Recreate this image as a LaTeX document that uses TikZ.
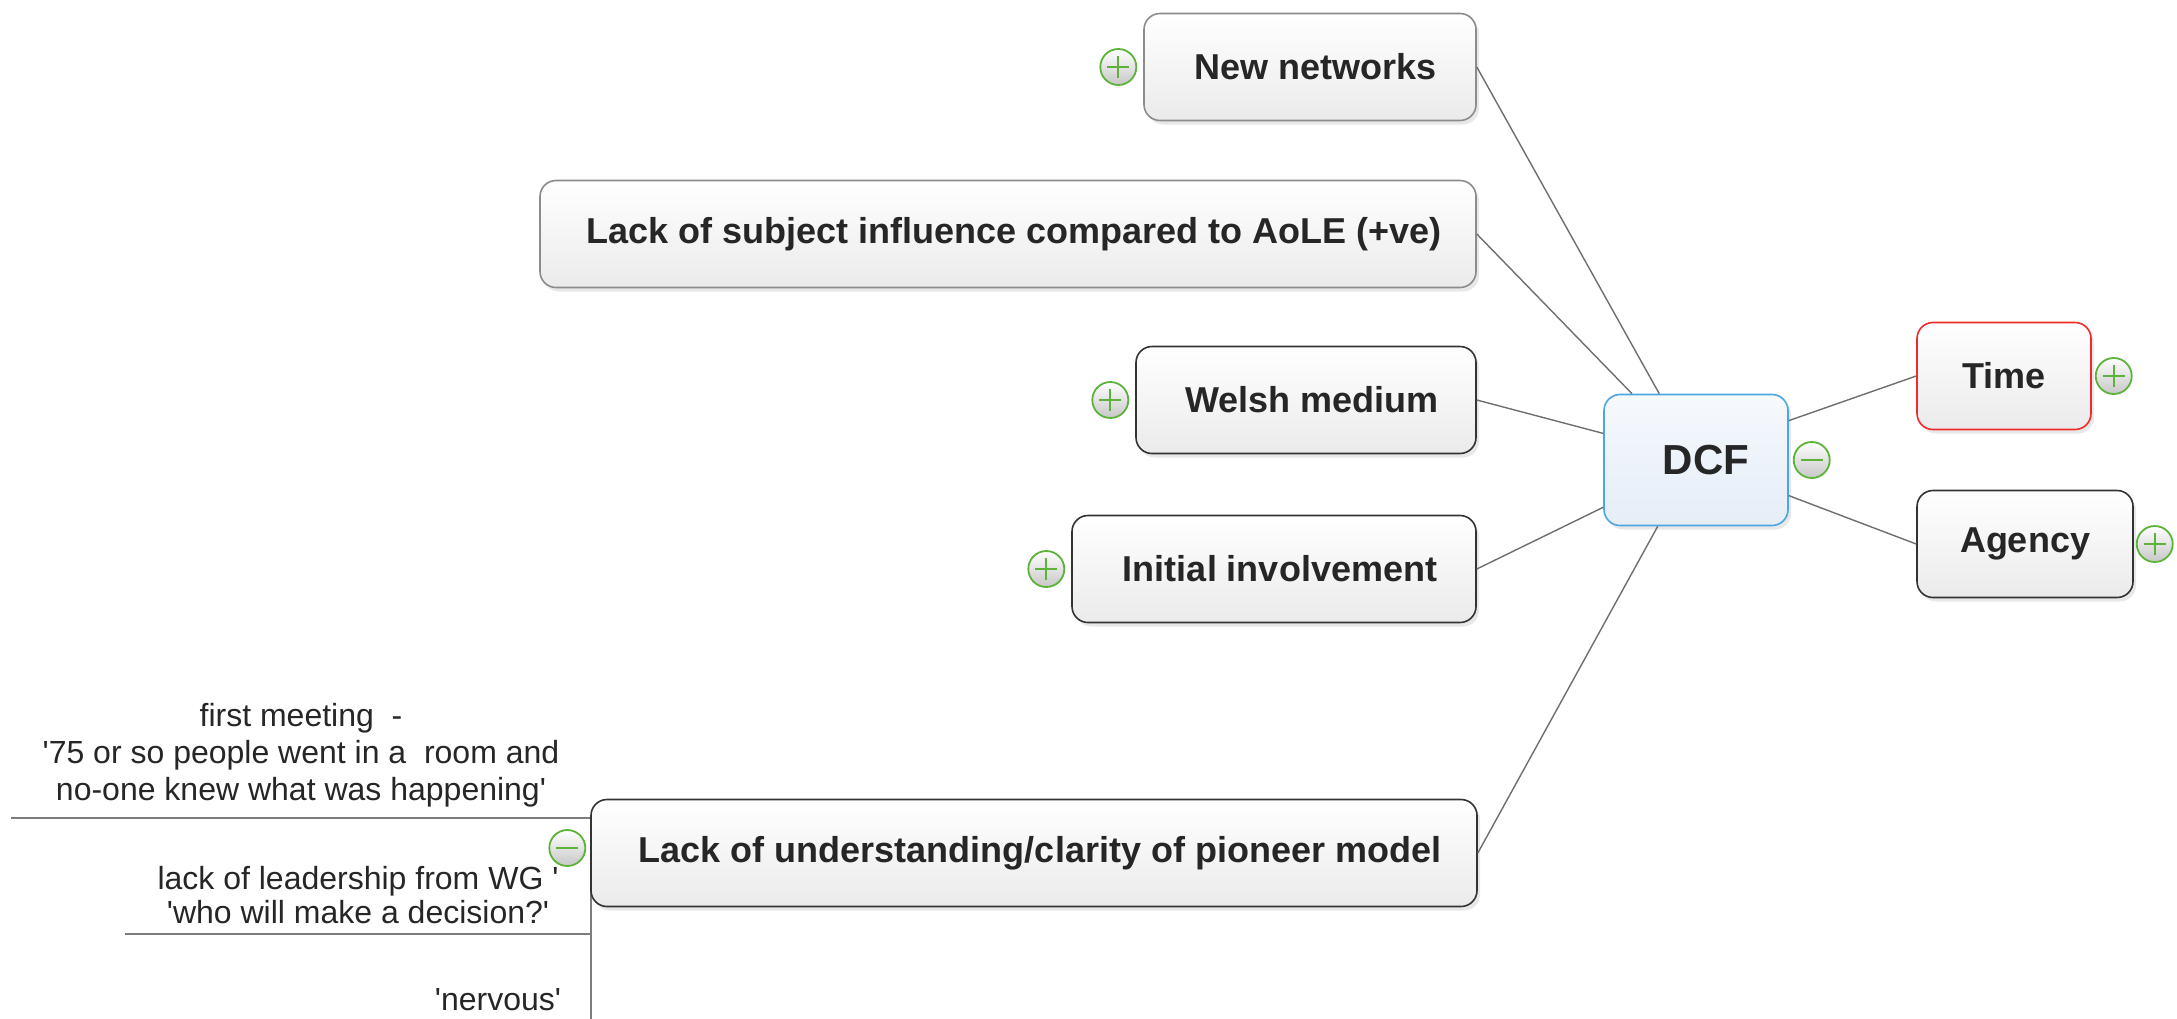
\documentclass[tikz,border=0pt]{standalone}
\usepackage{fontspec}
\setmainfont{Liberation Sans}
\usetikzlibrary{positioning,shadows}

\definecolor{boxline}{HTML}{333333}
\definecolor{greyline}{HTML}{8C8C8C}
\definecolor{dcfline}{HTML}{4DA6E0}
\definecolor{dcftop}{HTML}{F6F9FD}
\definecolor{dcfbottom}{HTML}{E5EDF8}
\definecolor{timered}{HTML}{EE2B2B}
\definecolor{btngreen}{HTML}{5DB33A}
\definecolor{linkgrey}{HTML}{6E6E6E}
\definecolor{labeltext}{HTML}{262626}

\newcommand{\sq}{\textquotesingle}

\tikzset{
  topic/.style={rectangle, rounded corners=8pt, draw=boxline, line width=0.8pt,
    top color=white, bottom color=black!8,
    drop shadow={opacity=0.18, shadow xshift=1.5pt, shadow yshift=-2pt},
    text=labeltext, font=\bfseries\fontsize{18}{21}\selectfont,
    minimum height=53.5pt, inner sep=0pt},
  centre/.style={topic, draw=dcfline, top color=dcftop, bottom color=dcfbottom,
    font=\bfseries\fontsize{21}{25}\selectfont,
    minimum width=92pt, minimum height=65.5pt},
  note/.style={align=center, text=labeltext, inner xsep=0pt, inner ysep=5pt,
    font=\fontsize{16}{18.5}\selectfont, anchor=south},
  link/.style={draw=linkgrey, line width=0.7pt},
  underline/.style={draw=linkgrey!90, line width=1pt},
  expand/.style={circle, draw=btngreen, line width=0.9pt, top color=white,
    bottom color=black!22, minimum size=18pt, inner sep=0pt,
    path picture={\draw[btngreen, line width=1pt]
      ([xshift=3.5pt]path picture bounding box.west) -- ([xshift=-3.5pt]path picture bounding box.east)
      ([yshift=-3.5pt]path picture bounding box.north) -- ([yshift=3.5pt]path picture bounding box.south);}},
  collapse/.style={expand,
    path picture={\draw[btngreen, line width=1pt]
      ([xshift=3.5pt]path picture bounding box.west) -- ([xshift=-3.5pt]path picture bounding box.east);}}
}

\begin{document}
\begin{tikzpicture}[x=0.5pt,y=-0.5pt]
\useasboundingbox (0,0) rectangle (2177,1018);

% notes under the pioneer model topic
\node[note, minimum width=290pt] (m1) at (301,818) {first meeting \ -\\\sq75 or so people went in a \ room and\\no-one knew what was happening\sq};
\node[note, minimum width=233pt, font=\fontsize{16}{17}\selectfont] (m2) at (358,934) {lack of leadership from WG \sq\\\sq who will make a decision?\sq};
\node[note, minimum width=93pt] (m3) at (498,1021) {\sq nervous\sq};
\draw[underline] (m1.south west) -- (m1.south east);
\draw[underline] (m2.south west) -- (m2.south east);
\draw[underline] (m1.south east) -- (m3.south east);

% topics
\node[centre] (dcf) at (1696,460) {\hspace{10pt}DCF};
\node[topic, draw=greyline, minimum width=166pt] (nn) at (1310,67) {\hspace{6pt}New networks};
\node[topic, draw=greyline, minimum width=468pt] (subj) at (1008,234) {\hspace{6pt}Lack of subject influence compared to AoLE (+ve)};
\node[topic, minimum width=170pt] (welsh) at (1306,400) {\hspace{6pt}Welsh medium};
\node[topic, minimum width=202pt] (init) at (1274,569) {\hspace{6pt}Initial involvement};
\node[topic, minimum width=443pt] (und) at (1034,853) {\hspace{6pt}Lack of understanding/clarity of pioneer model};
\node[topic, draw=timered, minimum width=87pt] (time) at (2004,376) {Time};
\node[topic, minimum width=108pt] (agency) at (2025,544) {Agency};

\draw[link] (nn.east) -- (dcf.119);
\draw[link] (subj.east) -- (dcf.134);
\draw[link] (welsh.east) -- (dcf.164);
\draw[link] (init.east) -- (dcf.207);
\draw[link] (und.east) -- (dcf.240);
\draw[link] (dcf.23) -- (time.west);
\draw[link] (dcf.-21) -- (agency.west);

% expand / collapse buttons
\node[expand, left=3pt of nn] (nnbtn) {};
\node[expand, left=3pt of welsh] (welshbtn) {};
\node[expand, left=3pt of init] (initbtn) {};
\node[expand, right=1.5pt of time] (timebtn) {};
\node[expand, right=1pt of agency] (agencybtn) {};
\node[collapse, right=2pt of dcf] (dcfbtn) {};
\node[collapse, left=2pt of und, yshift=2.5pt] (undbtn) {};
\end{tikzpicture}
\end{document}
